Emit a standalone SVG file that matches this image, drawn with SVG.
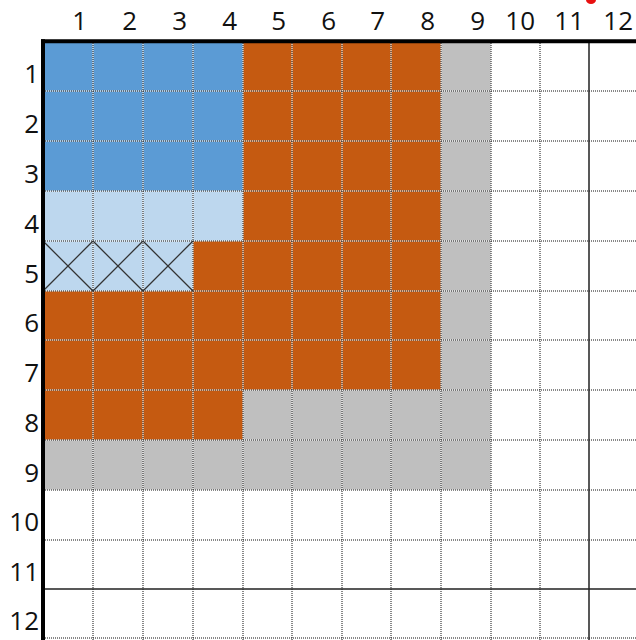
<svg xmlns="http://www.w3.org/2000/svg" width="636" height="640" viewBox="0 0 636 640">
<style>
.b{fill:#5B9BD5}.lb{fill:#BDD7EE}.o{fill:#C55A11}.g{fill:#BFBFBF}
.gw{stroke:#fff;stroke-width:1}
.gd{stroke:#111;stroke-width:1;stroke-dasharray:1 1}
.sol{stroke:#222;stroke-width:1.5}
.x{stroke:#333;stroke-width:1.3;fill:none}
.t{font-family:"Open Sans","Liberation Sans",Arial,sans-serif;font-size:26px;fill:#111;text-anchor:end}
</style>
<rect width="636" height="640" fill="#fff"/>
<g id="fills">
<rect class="b" x="43" y="41" width="200" height="150"/>
<rect class="lb" x="43" y="191" width="200" height="50"/>
<rect class="lb" x="43" y="241" width="150" height="50"/>
<rect class="o" x="243" y="41" width="198" height="349"/>
<rect class="o" x="193" y="241" width="50" height="50"/>
<rect class="o" x="43" y="291" width="200" height="149"/>
<rect class="g" x="441" y="41" width="50" height="449"/>
<rect class="g" x="243" y="390" width="198" height="100"/>
<rect class="g" x="43" y="440" width="200" height="50"/>
</g>
<g id="grid">
<g class="gw">
<path d="M93 41V640M143 41V640M193 41V640M243 41V640M292 41V640M342 41V640M391 41V640M441 41V640M491 41V640M540 41V640"/>
<path d="M43 91H636M43 141H636M43 191H636M43 241H636M43 291H636M43 340H636M43 390H636M43 440H636M43 490H636M43 540H636M43 638H636"/>
</g>
<g class="gd">
<path d="M93 41V640M143 41V640M193 41V640M243 41V640M292 41V640M342 41V640M391 41V640M441 41V640M491 41V640M540 41V640"/>
<path d="M43 91H636M43 141H636M43 191H636M43 241H636M43 291H636M43 340H636M43 390H636M43 440H636M43 490H636M43 540H636M43 638H636"/>
</g>
<path class="sol" d="M589 41V640M43 589H636"/>
</g>
<g id="crosses" class="x">
<path d="M43 241L93 291M93 241L43 291M93 241L143 291M143 241L93 291M143 241L193 291M193 241L143 291"/>
</g>
<g id="axes">
<path d="M41 41.3H636" stroke="#000" stroke-width="4"/>
<path d="M43 39.3V640" stroke="#000" stroke-width="4"/>
</g>
<g id="colLabels" class="t">
<text x="87" y="30">1</text><text x="137" y="30">2</text><text x="187" y="30">3</text><text x="237" y="30">4</text>
<text x="286" y="30">5</text><text x="336" y="30">6</text><text x="385" y="30">7</text><text x="435" y="30">8</text>
<text x="485" y="30">9</text><text x="535" y="30">10</text><text x="584" y="30">11</text><text x="633" y="30">12</text>
</g>
<g id="rowLabels" class="t">
<text x="39" y="83">1</text><text x="39" y="133">2</text><text x="39" y="183">3</text><text x="39" y="233">4</text>
<text x="39" y="283">5</text><text x="39" y="332">6</text><text x="39" y="382">7</text><text x="39" y="432">8</text>
<text x="39" y="482">9</text><text x="39" y="531">10</text><text x="39" y="581">11</text><text x="39" y="630">12</text>
</g>
<ellipse cx="591" cy="0" rx="5" ry="4" fill="#E81010"/>
</svg>
